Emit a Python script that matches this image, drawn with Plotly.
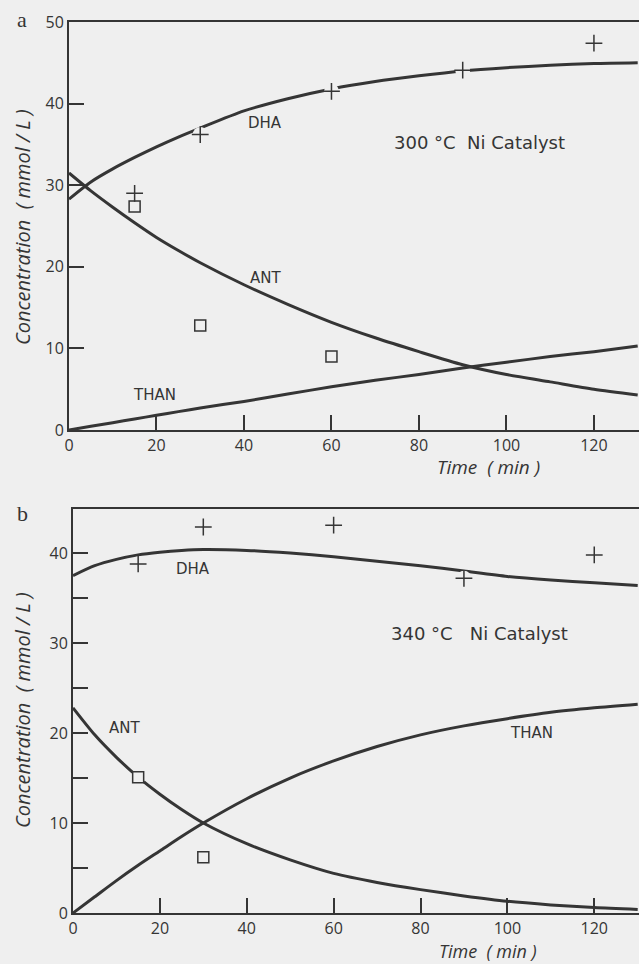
import plotly.graph_objects as go

# ---------------- Panel a: 300 °C Ni catalyst ----------------
t_curve_a = [0, 5, 10, 15, 20, 25, 30, 40, 50, 60, 70, 80, 90, 100, 110, 120, 130]
dha_curve_a = [28.3, 30.4, 32.0, 33.4, 34.7, 35.9, 37.0, 39.1, 40.6, 41.8, 42.7, 43.4, 44.0, 44.4, 44.7, 44.9, 45.0]
ant_curve_a = [31.5, 29.3, 27.3, 25.4, 23.6, 22.0, 20.5, 17.8, 15.4, 13.2, 11.3, 9.6, 8.0, 6.8, 5.9, 5.0, 4.3]
than_curve_a = [0.0, 0.45, 0.9, 1.35, 1.8, 2.25, 2.7, 3.5, 4.4, 5.3, 6.1, 6.8, 7.6, 8.3, 9.0, 9.6, 10.3]

t_dha_pts_a = [15, 30, 60, 90, 120]
dha_pts_a = [29.0, 36.2, 41.5, 44.1, 47.4]
t_ant_pts_a = [15, 30, 60]
ant_pts_a = [27.4, 12.8, 9.0]

# ---------------- Panel b: 340 °C Ni catalyst ----------------
t_curve_b = [0, 5, 10, 15, 20, 25, 30, 40, 50, 60, 70, 80, 90, 100, 110, 120, 130]
dha_curve_b = [37.5, 38.6, 39.3, 39.8, 40.1, 40.3, 40.4, 40.3, 40.0, 39.6, 39.1, 38.6, 38.0, 37.4, 37.0, 36.7, 36.4]
ant_curve_b = [22.8, 19.8, 17.3, 15.1, 13.2, 11.5, 10.0, 7.7, 5.9, 4.4, 3.4, 2.6, 1.9, 1.3, 0.9, 0.6, 0.4]
than_curve_b = [0.0, 1.8, 3.6, 5.3, 6.9, 8.5, 10.0, 12.7, 15.0, 16.9, 18.5, 19.8, 20.8, 21.6, 22.3, 22.8, 23.2]

t_dha_pts_b = [15, 30, 60, 90, 120]
dha_pts_b = [38.8, 42.9, 43.1, 37.2, 39.8]
t_ant_pts_b = [15, 30]
ant_pts_b = [15.1, 6.2]

x_ticks = [0, 20, 40, 60, 80, 100, 120]
y_ticks_a = [0, 10, 20, 30, 40, 50]
y_ticks_b = [0, 5, 10, 15, 20, 25, 30, 35, 40]
y_text_b = ["0", "", "10", "", "20", "", "30", "", "40"]

INK = "#353535"
PAPER = "#efefef"
FONT = "Open Sans"
LFONT = "DejaVu Sans"
W, H = 639, 964

fig = go.Figure()

def add_panel(xa, ya, t, dha, ant, than, tp, dp, ta, ap):
    for y in (dha, ant, than):
        fig.add_trace(go.Scatter(x=t, y=y, mode="lines", xaxis=xa, yaxis=ya,
                                 line=dict(color=INK, width=3, shape="spline", smoothing=0.7),
                                 showlegend=False, hoverinfo="skip"))
    # paper-coloured halos: the printed curves are interrupted around the symbols
    fig.add_trace(go.Scatter(x=tp + ta, y=dp + ap, mode="markers", xaxis=xa, yaxis=ya,
                             marker=dict(symbol="circle", size=15, color=PAPER,
                                         line=dict(width=0)),
                             showlegend=False, hoverinfo="skip"))
    fig.add_trace(go.Scatter(x=tp, y=dp, mode="markers", xaxis=xa, yaxis=ya,
                             marker=dict(symbol="cross-thin", size=12,
                                         line=dict(color=INK, width=1.5)),
                             showlegend=False))
    fig.add_trace(go.Scatter(x=ta, y=ap, mode="markers", xaxis=xa, yaxis=ya,
                             marker=dict(symbol="square-open", size=11, color=INK,
                                         line=dict(color=INK, width=1.5)),
                             showlegend=False))

add_panel("x", "y", t_curve_a, dha_curve_a, ant_curve_a, than_curve_a,
          t_dha_pts_a, dha_pts_a, t_ant_pts_a, ant_pts_a)
add_panel("x2", "y2", t_curve_b, dha_curve_b, ant_curve_b, than_curve_b,
          t_dha_pts_b, dha_pts_b, t_ant_pts_b, ant_pts_b)

def px_y(p):
    return 1 - p / H

axis_common = dict(showgrid=False, zeroline=False, showline=True, linecolor=INK, linewidth=2,
                   ticks="inside", ticklen=15, tickwidth=1.6, tickcolor=INK, automargin=False,
                   tickfont=dict(family=FONT, size=16, color=INK))

fig.update_layout(
    width=W, height=H,
    margin=dict(l=0, r=0, t=0, b=0, pad=0, autoexpand=False),
    paper_bgcolor=PAPER, plot_bgcolor=PAPER,
    font=dict(family=FONT, color=INK),
    xaxis=dict(domain=[69 / W, 1], range=[0, 130.3], tickvals=x_ticks, mirror=True,
               anchor="y", **axis_common),
    yaxis=dict(domain=[px_y(430), px_y(22)], range=[0, 50], tickvals=y_ticks_a,
               anchor="x", **axis_common),
    xaxis2=dict(domain=[73 / W, 1], range=[0, 130.3], tickvals=x_ticks, mirror=True,
                anchor="y2", **axis_common),
    yaxis2=dict(domain=[px_y(913), px_y(509)], range=[0, 44.9],
                tickvals=y_ticks_b, ticktext=y_text_b,
                anchor="x2", **axis_common),
)

label_font = dict(family=LFONT, size=15, color=INK)
cat_font = dict(family=LFONT, size=18, color=INK)
title_font = dict(family=FONT, size=20, color=INK)
time_font = dict(family=FONT, size=19, color=INK)
C = dict(showarrow=False, xanchor="center", yanchor="middle")
ann = [
    # panel a
    dict(x=44.8, y=37.6, xref="x", yref="y", text="DHA", font=label_font, **C),
    dict(x=45, y=18.6, xref="x", yref="y", text="ANT", font=label_font, **C),
    dict(x=19.5, y=4.3, xref="x", yref="y", text="THAN", font=label_font, **C),
    dict(x=93.8, y=35.2, xref="x", yref="y", text="300 °C&nbsp;&nbsp;Ni Catalyst", font=cat_font, **C),
    # panel b
    dict(x=27.7, y=38.2, xref="x2", yref="y2", text="DHA", font=label_font, **C),
    dict(x=11.8, y=20.6, xref="x2", yref="y2", text="ANT", font=label_font, **C),
    dict(x=105.5, y=20.0, xref="x2", yref="y2", text="THAN", font=label_font, **C),
    dict(x=93.6, y=31.1, xref="x2", yref="y2", text="340 °C&nbsp;&nbsp;&nbsp;Ni Catalyst",
         font=cat_font, **C),
    # axis titles
    dict(x=22 / W, y=px_y(227), xref="paper", yref="paper",
         text="<i>Concentration&nbsp;&nbsp;( mmol / L )</i>",
         textangle=-90, font=title_font, **C),
    dict(x=22 / W, y=px_y(710), xref="paper", yref="paper",
         text="<i>Concentration&nbsp;&nbsp;( mmol / L )</i>",
         textangle=-90, font=title_font, **C),
    dict(x=488 / W, y=px_y(467), xref="paper", yref="paper", text="<i>Time&nbsp;&nbsp;( min )</i>",
         font=time_font, **C),
    dict(x=488 / W, y=px_y(951), xref="paper", yref="paper", text="<i>Time&nbsp;&nbsp;( min )</i>",
         font=dict(family=FONT, size=18, color=INK), borderpad=0, **C),
    # panel letters
    dict(x=22 / W, y=px_y(19), xref="paper", yref="paper", text="a",
         font=dict(family="Liberation Serif", size=22, color=INK), **C),
    dict(x=22 / W, y=px_y(513), xref="paper", yref="paper", text="b",
         font=dict(family="Liberation Serif", size=22, color=INK), **C),
]
fig.update_layout(annotations=ann)

fig.write_html("out.html", config={"displayModeBar": False},
               post_script="document.body.style.margin='0';document.body.style.padding='0';")
